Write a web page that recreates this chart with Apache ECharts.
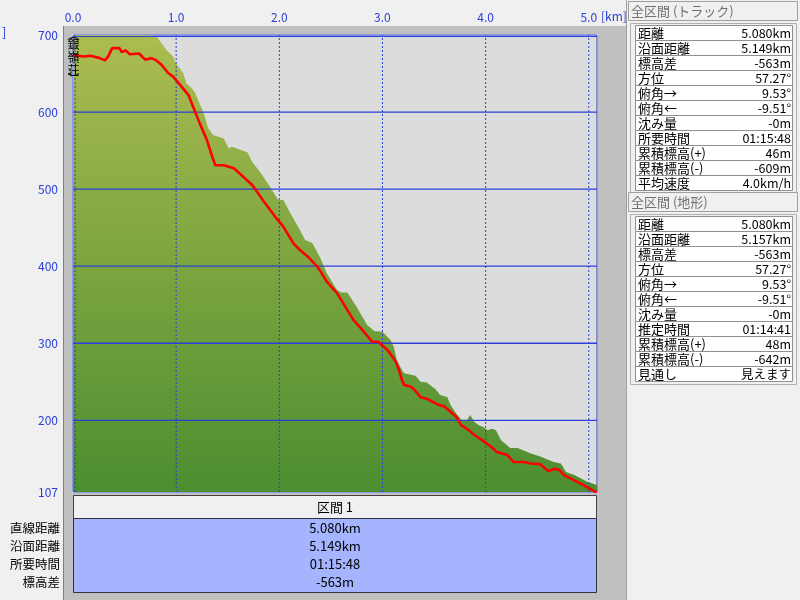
<!DOCTYPE html>
<html><head><meta charset="utf-8">
<script src="https://cdn.jsdelivr.net/npm/echarts@6/dist/echarts.min.js"></script>
<style>html,body{margin:0;padding:0;background:#f0f0f0}#c{width:800px;height:600px}</style>
</head><body><div id="c"></div>
<script>
// Track (red line): [distance km, elevation m]
const trackDist = [0.00,0.10,0.17,0.26,0.31,0.34,0.38,0.45,0.47,0.51,0.55,0.64,0.70,0.76,0.81,0.86,0.92,0.97,1.04,1.12,1.17,1.23,1.30,1.35,1.38,1.46,1.56,1.65,1.74,1.85,1.95,2.04,2.14,2.20,2.28,2.37,2.41,2.46,2.56,2.66,2.72,2.82,2.90,2.96,3.00,3.05,3.09,3.13,3.16,3.19,3.21,3.27,3.30,3.37,3.43,3.53,3.60,3.66,3.72,3.76,3.84,3.89,3.97,4.05,4.11,4.21,4.27,4.37,4.44,4.53,4.61,4.66,4.71,4.76,4.86,4.95,5.05,5.08];
const trackElev = [674,672,673,670,667,672,683,683,678,680,675,676,668,670,667,661,651,646,635,622,605,585,563,542,531,531,527,516,505,484,466,451,429,421,412,399,391,380,365,343,330,315,302,302,297,291,284,276,265,252,246,244,241,230,228,221,218,211,204,194,187,181,174,166,159,155,146,146,144,143,134,137,136,129,122,116,108,107];
// Terrain (green area): [distance km, elevation m]
const terrainDist = [0.00,0.60,0.70,0.78,0.81,0.85,0.91,0.97,1.00,1.07,1.10,1.15,1.18,1.22,1.27,1.31,1.36,1.46,1.51,1.54,1.62,1.69,1.735,1.815,1.91,1.99,2.04,2.11,2.20,2.25,2.32,2.40,2.46,2.56,2.60,2.66,2.75,2.79,2.85,2.92,3.00,3.08,3.11,3.14,3.19,3.21,3.32,3.37,3.43,3.47,3.51,3.56,3.63,3.66,3.72,3.77,3.82,3.85,3.89,3.93,3.98,4.02,4.06,4.10,4.15,4.24,4.31,4.37,4.44,4.53,4.66,4.73,4.78,4.86,4.99,5.08];
const terrainElev = [700,700,700,699,698,691,680,672,663,650,637,631,626,613,598,579,570,566,553,555,551,548,536,522,503,486,486,468,447,434,430,410,391,369,366,366,347,338,324,316,315,304,295,278,265,261,258,250,249,245,241,233,230,220,208,200,200,207,198,194,191,187,189,187,174,164,164,161,157,153,146,144,133,129,120,116];

const xTicks = [0,1,2,3,4,5];
const yTicks = [107,200,300,400,500,600,700];
const hGrid = [200,300,400,500,600];
const vGrid = [0.02,1,2,3,4,5];

const trackStatLabels = ['距離','沿面距離','標高差','方位','俯角→','俯角←','沈み量','所要時間','累積標高(+)','累積標高(-)','平均速度'];
const trackStatValues = ['5.080km','5.149km','-563m','57.27°','9.53°','-9.51°','-0m','01:15:48','46m','-609m','4.0km/h'];
const terrainStatLabels = ['距離','沿面距離','標高差','方位','俯角→','俯角←','沈み量','推定時間','累積標高(+)','累積標高(-)','見通し'];
const terrainStatValues = ['5.080km','5.157km','-563m','57.27°','9.53°','-9.51°','-0m','01:14:41','48m','-642m','見えます'];
const sectionTitle = '区間 1';
const sectionLabels = ['直線距離','沿面距離','所要時間','標高差'];
const sectionValues = ['5.080km','5.149km','01:15:48','-563m'];
const landmark = ['︵','銀','嶺','荘','︶'];

const FONT = '"Noto Sans CJK JP", "Noto Sans", sans-serif';
const BLUE = '#2a40d8';
const XMIN = 0, XMAX = 5.08, YMIN = 107, YMAX = 700;

const chart = echarts.init(document.getElementById('c'));
const g = [];
const frame = '#c0c0c0';
g.push({type:'rect', shape:{x:64,y:26,width:562,height:8}, style:{fill:frame}});
g.push({type:'rect', shape:{x:64,y:34,width:8,height:566}, style:{fill:frame}});
g.push({type:'rect', shape:{x:598,y:34,width:28,height:566}, style:{fill:frame}});
g.push({type:'rect', shape:{x:72,y:493,width:526,height:107}, style:{fill:frame}});
g.push({type:'line', shape:{x1:63.5,y1:26,x2:63.5,y2:600}, style:{stroke:'#808080',lineWidth:1}});
g.push({type:'line', shape:{x1:626.5,y1:0,x2:626.5,y2:600}, style:{stroke:'#a0a0a0',lineWidth:1}});
g.push({type:'text', style:{text:']', x:2, y:32, fill:BLUE, font:'13px '+FONT, textVerticalAlign:'middle'}});
g.push({type:'text', style:{text:'[km]', x:601, y:16, fill:BLUE, font:'12px '+FONT, textVerticalAlign:'middle'}});
const lmY = [34,44,57,70,79];
landmark.forEach((ch,i)=>{
  g.push({type:'text', z:10, style:{text:ch, x:73.5, y:lmY[i], fill:'#000', font:'12px '+FONT, textAlign:'center', textVerticalAlign:'middle'}});
});
function statTable(title, top, labels, values){
  g.push({type:'rect', shape:{x:628.5,y:top+0.5,width:169,height:19}, style:{fill:'#f0f0f0',stroke:'#a0a0a0',lineWidth:1}});
  g.push({type:'text', style:{text:title, x:631, y:top+10, fill:'#707070', font:'13px '+FONT, textVerticalAlign:'middle'}});
  const t0 = top+22;
  g.push({type:'rect', shape:{x:630.5,y:t0+0.5,width:166,height:labels.length*15+5}, style:{fill:'#f0f0f0',stroke:'#b0b0b0',lineWidth:1}});
  labels.forEach((lab,i)=>{
    const y = t0+2.5+i*15;
    g.push({type:'rect', shape:{x:635.5,y:y,width:157,height:15}, style:{fill:'#ffffff',stroke:'#909090',lineWidth:1}});
    g.push({type:'text', style:{text:lab, x:638, y:y+7.5, fill:'#000', font:'13px '+FONT, textVerticalAlign:'middle'}});
    g.push({type:'text', style:{text:values[i], x:791, y:y+7.5, fill:'#000', font:'12.5px '+FONT, textAlign:'right', textVerticalAlign:'middle'}});
  });
}
statTable('全区間 (トラック)', 1, trackStatLabels, trackStatValues);
statTable('全区間 (地形)', 192, terrainStatLabels, terrainStatValues);
g.push({type:'rect', shape:{x:73.5,y:495.5,width:523,height:23}, style:{fill:'#f0f0f0',stroke:'#404040',lineWidth:1}});
g.push({type:'text', style:{text:sectionTitle, x:335, y:507, fill:'#000', font:'13px '+FONT, textAlign:'center', textVerticalAlign:'middle'}});
g.push({type:'rect', shape:{x:73.5,y:518.5,width:523,height:74}, style:{fill:'#a4b4ff',stroke:'#303040',lineWidth:1}});
sectionLabels.forEach((lab,i)=>{
  const y = 528+i*18;
  g.push({type:'text', style:{text:lab, x:60, y:y, fill:'#000', font:'12.5px '+FONT, textAlign:'right', textVerticalAlign:'middle'}});
  g.push({type:'text', style:{text:sectionValues[i], x:335, y:y, fill:'#000', font:'13px '+FONT, textAlign:'center', textVerticalAlign:'middle'}});
});

const gridSeries = [
  ...hGrid.map(v=>({type:'line', z:4, silent:true, symbol:'none', data:[[XMIN,v],[XMAX,v]], lineStyle:{color:BLUE, width:1.3, type:'solid'}})),
  ...vGrid.map(v=>({type:'line', z:4, silent:true, symbol:'none', data:[[v,YMIN],[v,YMAX]], lineStyle:{color:BLUE, width:1, type:[2,2]}})),
  {type:'line', z:4, silent:true, symbol:'none', data:[[XMIN,698],[XMAX,698]], lineStyle:{color:BLUE, width:1}}
];

const option = {
  backgroundColor:'#f0f0f0',
  animation:false,
  grid:{left:73, right:203, top:35, bottom:108, show:true, backgroundColor:'#dcdcdc', borderColor:BLUE, borderWidth:1},
  xAxis:{type:'value', position:'top', min:XMIN, max:XMAX, interval:1,
    axisLine:{show:false}, axisTick:{show:false}, splitLine:{show:false},
    axisLabel:{customValues:xTicks, color:BLUE, fontSize:12, fontFamily:FONT, margin:12, formatter:v=>v.toFixed(1)}},
  yAxis:{type:'value', min:YMIN, max:YMAX,
    axisLine:{show:false}, axisTick:{show:false}, splitLine:{show:false},
    axisLabel:{customValues:yTicks, color:BLUE, fontSize:12, fontFamily:FONT, margin:15}},
  series:[
    {type:'line', z:2, data:terrainDist.map((d,i)=>[d,terrainElev[i]]), showSymbol:false, symbol:'none',
     lineStyle:{width:0}, silent:true,
     areaStyle:{origin:'start', opacity:1, color:new echarts.graphic.LinearGradient(0,0,0,1,[{offset:0,color:'#acbc50'},{offset:1,color:'#4c8e30'}])}},
    ...gridSeries,
    {type:'line', z:6, data:trackDist.map((d,i)=>[d,trackElev[i]]), showSymbol:false, symbol:'none',
     lineStyle:{color:'#ff0000', width:2.6}, silent:true}
  ],
  graphic:g
};
chart.setOption(option);
</script></body></html>
